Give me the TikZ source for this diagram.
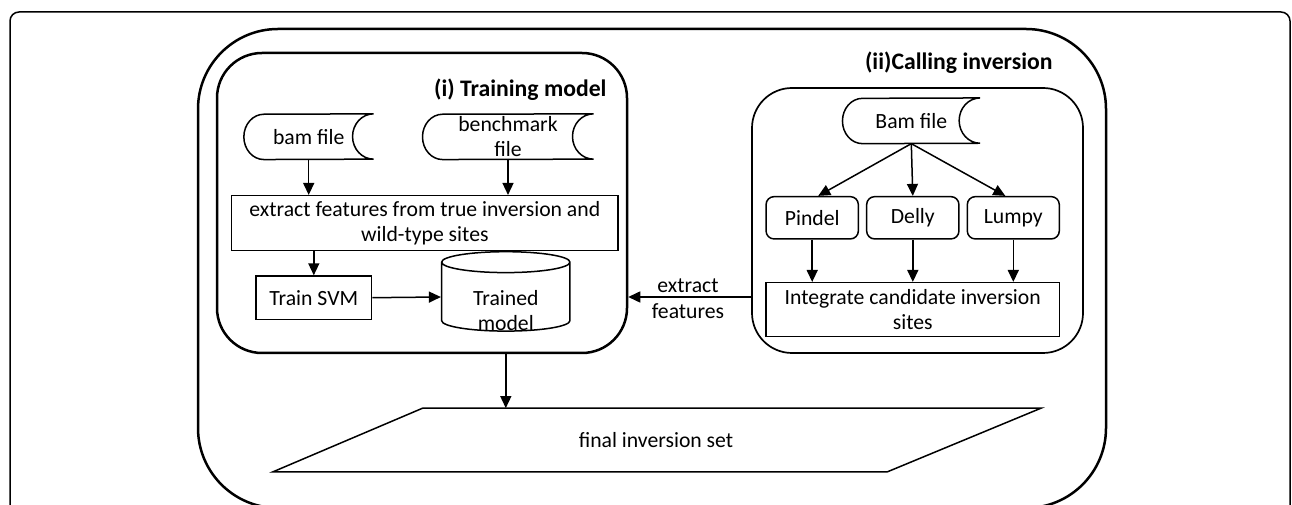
\documentclass[tikz,border=0pt]{standalone}
\usepackage{fontspec}
\setmainfont{Carlito}
\usetikzlibrary{arrows.meta,positioning,shapes.geometric}
\tikzset{every node/.append style={font=\fontsize{21.7}{25}\selectfont}}
\tikzset{arr/.style={line width=1.5pt,-{Triangle[length=12pt,width=11pt]}}}
\tikzset{procbox/.style={draw,line width=1.5pt,inner sep=0pt,align=center}}
\tikzset{toolbox/.style={procbox,rounded corners=8pt}}
\tikzset{datafile/.style={inner sep=0pt,minimum height=45.3pt,align=center}}
\tikzset{stagebox/.style={draw,rounded corners=#1,inner sep=0pt}}
\tikzset{stagetitle/.style={anchor=east,font=\fontsize{23.7}{27}\selectfont\bfseries}}

\begin{document}
\begin{tikzpicture}[x=1pt,y=1pt]
\useasboundingbox (0,0) rectangle (1292,505);
% frame and workflow box
\draw[line width=1.5pt,rounded corners=9pt] (10,-10) -- (10,493) -- (1290,493) -- (1290,-10);
\draw[line width=2.5pt,rounded corners=80pt] (198,-3) rectangle (1106,476);

% (i) training
\node[stagebox=45pt,line width=2.5pt,minimum width=410pt,minimum height=300pt] (train) at (422,302) {};
\node[stagetitle] (traintitle) at (610,415) {(i) Training model};
\node[datafile,minimum width=129.3pt] (bam) at (308.7,368.3) {bam file};
\node[datafile,minimum width=170.6pt] (bench) at (508,368.3) {benchmark\\file};
\node[procbox,minimum width=386.3pt,minimum height=55pt] (extract) at (424.8,281.8) {extract features from true inversion and\\wild-type sites};
\node[procbox,minimum width=115.7pt,minimum height=43.3pt] (svm) at (313.8,207.3) {Train SVM};
\node[cylinder,shape border rotate=90,aspect=0.32,draw,line width=1.5pt,minimum width=128.3pt,minimum height=79.4pt,inner sep=0pt,text height=42pt,text depth=0pt] (trained) at (505.8,208) {\begin{tabular}{@{}c@{}}Trained\\model\end{tabular}};

% (ii) calling
\node[stagebox=40pt,line width=1.7pt,minimum width=331pt,minimum height=265pt] (call) at (917.5,284.5) {};
\node[stagetitle] (calltitle) at (1056,442) {(ii)Calling inversion};
\node[datafile,minimum width=137.3pt] (bamb) at (911.3,384.2) {Bam file};
\node[toolbox,minimum width=92.3pt,minimum height=42.3pt] (pindel) at (812.2,287.2) {Pindel};
\node[toolbox,minimum width=92.3pt,minimum height=42.3pt] (delly) at (912.8,287.2) {Delly};
\node[toolbox,minimum width=92pt,minimum height=42.3pt] (lumpy) at (1013.3,287.2) {Lumpy};
\node[procbox,minimum width=293.3pt,minimum height=54pt] (integ) at (912.7,195.3) {Integrate candidate inversion\\sites};

\node[inner sep=0pt,align=center,font=\fontsize{21.7}{26}\selectfont] (extlbl) at (688,206.2) {extract\\features};

% output
\node[minimum width=616pt,minimum height=63.4pt,inner sep=0pt] (final) at (656,65) {final inversion set};
\draw[line width=1.5pt] ([xshift=75pt]final.north west) -- ([xshift=77pt]final.north east) -- ([xshift=-77pt]final.south east) -- ([xshift=-75pt]final.south west) -- cycle;

\foreach \n in {bam,bench,bamb}
\draw[line width=1.5pt] ([xshift=20pt]\n.south west) arc[start angle=270,end angle=90,x radius=20pt,y radius=22.65pt] -- (\n.north east) arc[start angle=90,end angle=270,x radius=21pt,y radius=22.65pt] -- cycle;

\draw[arr] (bam.south) -- (bam.south |- extract.north);
\draw[arr] (bench.south) -- (bench.south |- extract.north);
\draw[arr] (svm.north |- extract.south) -- (svm.north);
\draw[arr] (svm.east) -- (trained.west);
\draw[arr] (bamb.south) -- ([xshift=6pt]pindel.north);
\draw[arr] (bamb.south) -- (delly.north);
\draw[arr] (bamb.south) -- ([xshift=-8pt]lumpy.north);
\foreach \n in {pindel,delly,lumpy}
\draw[arr] (\n.south) -- (\n.south |- integ.north);
\draw[arr] (trained -| call.west) -- (trained -| train.east);
\draw[arr] (train.south -| trained) -- (final.north -| trained);
\end{tikzpicture}
\end{document}
